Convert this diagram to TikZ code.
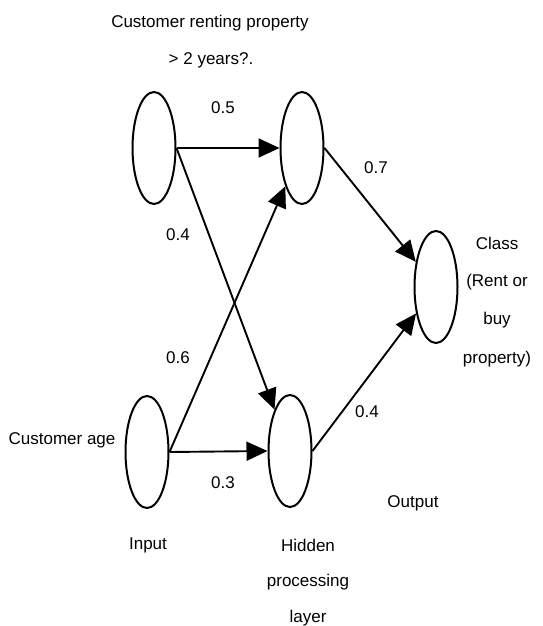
\documentclass[tikz,border=0pt]{standalone}
\usepackage{fontspec}
\setmainfont{Liberation Sans}
\usetikzlibrary{shapes.geometric,arrows.meta}
\begin{document}
\begin{tikzpicture}[x=1pt,y=-1pt,
                    neuron/.style={ellipse, draw, line width=2pt, minimum width=43pt, minimum height=112pt, inner sep=0pt},
                    link/.style={line width=1.9pt, -{Triangle[length=21pt,width=19pt]}},
                    lbl/.style={font=\fontsize{17}{20}\selectfont, inner sep=0pt},
                ]
                \useasboundingbox (0,0) rectangle (543,626);
                % neurons
                \node[neuron] (in1) at (154,148) {};
                \node[neuron] (in2) at (147,452) {};
                \node[neuron] (hid1) at (302,148) {};
                \node[neuron] (hid2) at (290,451) {};
                \node[neuron] (out) at (436,287) {};
                % connections
                \draw[link] (in1.east) -- (hid1.west);
                \draw[link] (in1.east) -- (hid2);
                \draw[link] (in2.east) -- (hid1);
                \draw[link] (in2.east) -- (hid2.west);
                \draw[link] (hid1.east) -- (out);
                \draw[link] (hid2.east) -- (out);
                % weights
                \node[lbl] (w1) at (223,108) {0.5};
                \node[lbl] (w2) at (178,235) {0.4};
                \node[lbl] (w3) at (178,358) {0.6};
                \node[lbl] (w4) at (223,483) {0.3};
                \node[lbl] (w5) at (376,168) {0.7};
                \node[lbl] (w6) at (367,412) {0.4};
                % labels
                \node[lbl] (q1) at (210,23) {Customer renting property};
                \node[lbl] (q2) at (211,60) {> 2 years?.};
                \node[lbl] (age) at (62,440) {Customer age};
                \node[lbl] (c1) at (497,243) {Class};
                \node[lbl] (c2) at (497,282) {(Rent or};
                \node[lbl] (c3) at (497,320) {buy};
                \node[lbl] (c4) at (497,359) {property)};
                \node[lbl] (outl) at (413,503) {Output};
                \node[lbl] (inl) at (148,545) {Input};
                \node[lbl] (h1) at (308,545) {Hidden};
                \node[lbl] (h2) at (308,582) {processing};
                \node[lbl] (h3) at (308,618) {layer};
                \end{tikzpicture}
\end{document}
